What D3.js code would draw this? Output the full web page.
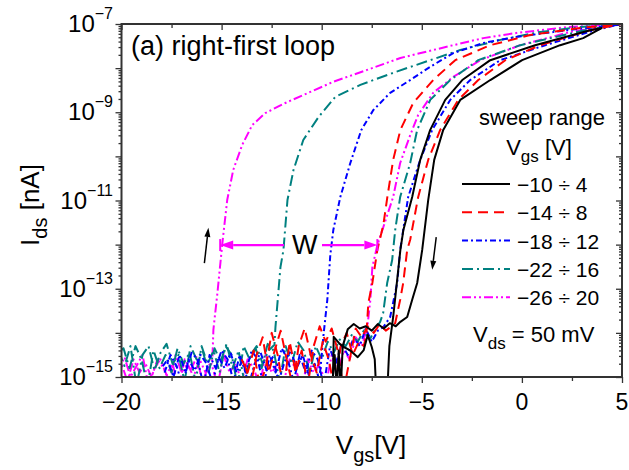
<!DOCTYPE html>
<html>
<head>
<meta charset="utf-8">
<script src="https://cdn.jsdelivr.net/npm/d3@7"></script>
<style>
  body { margin: 0; background: #fff; }
  text { font-family: "Liberation Sans", Arial, sans-serif; fill: #000; }
</style>
</head>
<body>
<svg id="chart" width="629" height="470"></svg>
<script>
// Transfer curves: each point is [Vgs in V, log10(Ids)].
// "down" = sweep from the positive end (with the floor it falls into),
// "up"   = return sweep along the floor and rising out of it.
const blackDown = [[4.0,-7.09],[3.06,-7.32],[1.91,-7.48],[0.01,-7.82],[-1.58,-8.27],[-3.08,-8.72],[-3.93,-9.40],[-4.38,-10.08],[-4.68,-10.99],[-4.98,-12.12],[-5.23,-12.87],[-5.48,-13.25],[-5.73,-13.64],[-6.07,-13.75],[-6.3,-13.85],[-6.6,-13.78],[-6.9,-13.9],[-7.2,-13.8],[-7.5,-13.95],[-7.8,-13.85],[-8.1,-13.9],[-8.4,-13.8],[-8.7,-13.92],[-8.95,-14.3],[-9.05,-15.3],[-9.15,-14.4],[-9.25,-15.3],[-9.35,-14.5],[-9.5,-15.3],[-10.0,-15.3]];
const blackUp = [[-10.0,-15.3],[-9.45,-15.3],[-9.4,-14.09],[-9.1,-14.25],[-8.9,-14.32],[-8.6,-14.39],[-8.2,-14.55],[-7.9,-14.39],[-7.7,-14.05],[-7.5,-14.32],[-7.35,-14.6],[-7.28,-15.3],[-6.72,-15.3],[-6.62,-14.3],[-6.43,-13.64],[-6.07,-12.12],[-5.92,-11.67],[-5.48,-10.92],[-5.08,-10.08],[-4.58,-9.40],[-3.83,-8.72],[-2.98,-8.27],[-1.58,-7.82],[0.66,-7.48],[3.41,-7.14],[4.0,-7.09]];

const redDown = [[5.3,-6.97],[4.96,-7.0],[3.41,-7.14],[0.91,-7.48],[-0.83,-7.82],[-2.18,-8.27],[-3.18,-8.72],[-4.08,-9.40],[-4.68,-10.08],[-5.18,-10.92],[-5.58,-11.89],[-5.73,-12.12],[-5.93,-12.87],[-6.08,-13.25],[-6.33,-13.78],[-6.5,-13.85],[-6.8,-13.95],[-7.1,-13.8],[-7.4,-14.0],[-7.7,-13.85],[-8.0,-14.1],[-8.3,-13.9],[-8.6,-14.6],[-8.9,-15.3],[-9.2,-14.4],[-9.5,-13.9],[-9.8,-14.2],[-10.1,-13.85],[-10.4,-14.3],[-10.7,-15.2],[-11.0,-14.4],[-11.3,-14.9],[-11.6,-14.2],[-11.9,-15.3],[-12.2,-14.5],[-12.5,-14.0],[-12.8,-14.8],[-13.1,-15.2],[-13.4,-14.4],[-13.7,-14.9],[-14.0,-14.6]];
const redUp = [[-13.85,-14.7],[-13.55,-15.2],[-13.25,-14.5],[-12.95,-14.1],[-12.65,-14.9],[-12.35,-14.4],[-12.05,-13.95],[-11.75,-14.6],[-11.45,-15.2],[-11.15,-14.3],[-10.85,-13.9],[-10.55,-14.5],[-10.25,-14.9],[-9.95,-14.2],[-9.65,-14.6],[-9.35,-15.3],[-9.05,-14.3],[-8.75,-14.0],[-8.45,-14.5],[-8.15,-14.2],[-7.9,-14.3],[-7.77,-14.05],[-7.67,-13.32],[-7.47,-12.87],[-7.22,-12.12],[-6.92,-11.55],[-6.72,-10.92],[-6.43,-10.08],[-6.07,-9.40],[-5.43,-8.79],[-4.43,-8.27],[-3.33,-7.82],[-1.58,-7.48],[0.41,-7.25],[2.91,-7.09],[4.96,-7.0],[5.3,-6.98]];

const blueDown = [[5.3,-6.97],[4.96,-7.0],[3.66,-7.14],[1.16,-7.48],[-1.08,-7.82],[-2.58,-8.27],[-3.58,-8.72],[-4.48,-9.40],[-5.08,-10.08],[-5.68,-10.92],[-6.08,-12.12],[-6.23,-12.87],[-6.58,-13.64],[-6.92,-13.87],[-7.2,-13.95],[-7.5,-14.2],[-7.8,-13.9],[-8.1,-14.3],[-8.4,-14.1],[-8.7,-14.5],[-9.0,-14.25],[-9.3,-14.7],[-9.6,-14.35],[-9.9,-15.2],[-10.2,-14.6],[-10.5,-14.4],[-10.8,-14.9],[-11.1,-14.5],[-11.4,-15.1],[-11.7,-14.6],[-12.0,-14.35],[-12.3,-14.9],[-12.6,-14.5],[-12.9,-15.2],[-13.2,-14.6],[-13.5,-14.4],[-13.8,-14.9],[-14.1,-14.5],[-14.4,-15.1],[-14.7,-14.6],[-15.0,-14.4],[-15.3,-14.8],[-15.6,-14.5],[-15.9,-15.2],[-16.2,-14.6],[-16.5,-14.45],[-16.8,-14.9],[-17.1,-14.5],[-17.4,-15.0],[-17.7,-14.6],[-18.0,-14.8]];
const blueUp = [[-17.85,-14.9],[-17.55,-14.5],[-17.25,-14.75],[-16.95,-15.2],[-16.65,-14.6],[-16.35,-14.85],[-16.05,-14.5],[-15.75,-14.7],[-15.45,-15.15],[-15.15,-14.55],[-14.85,-14.8],[-14.55,-14.45],[-14.25,-14.9],[-13.95,-14.6],[-13.65,-15.2],[-13.35,-14.7],[-13.05,-14.45],[-12.75,-14.85],[-12.45,-14.55],[-12.15,-15.1],[-11.85,-14.65],[-11.55,-14.4],[-11.25,-14.8],[-10.95,-14.5],[-10.65,-14.95],[-10.35,-14.7],[-10.12,-15.07],[-10.02,-14.61],[-9.92,-14.09],[-9.72,-13.25],[-9.57,-12.23],[-9.42,-11.67],[-9.07,-10.92],[-8.57,-10.15],[-8.02,-9.40],[-7.42,-8.95],[-6.58,-8.56],[-5.58,-8.27],[-4.58,-7.97],[-3.43,-7.66],[-1.93,-7.43],[-0.23,-7.29],[2.26,-7.14],[4.76,-7.02],[5.3,-6.99]];

const tealDown = [[5.3,-6.96],[4.96,-7.0],[3.16,-7.14],[-0.08,-7.48],[-2.18,-7.82],[-3.58,-8.27],[-4.58,-8.72],[-5.23,-9.40],[-5.58,-10.15],[-6.08,-10.92],[-6.33,-11.67],[-6.48,-12.35],[-6.73,-12.87],[-6.93,-13.55],[-7.08,-13.75],[-7.3,-13.9],[-7.6,-14.15],[-7.9,-13.95],[-8.2,-14.2],[-8.5,-14.05],[-8.8,-14.3],[-9.1,-14.15],[-9.4,-14.45],[-9.7,-14.2],[-10.0,-14.6],[-10.3,-14.3],[-10.6,-14.9],[-10.9,-14.4],[-11.2,-14.2],[-11.5,-14.7],[-11.8,-14.3],[-12.1,-15.1],[-12.4,-14.4],[-12.7,-14.25],[-13.0,-14.8],[-13.3,-14.35],[-13.6,-14.6],[-13.9,-14.3],[-14.2,-15.2],[-14.5,-14.5],[-14.8,-14.3],[-15.1,-14.9],[-15.4,-14.4],[-15.7,-14.7],[-16.0,-14.3],[-16.3,-15.1],[-16.6,-14.45],[-16.9,-14.7],[-17.2,-14.35],[-17.5,-14.9],[-17.8,-14.5],[-18.1,-14.8],[-18.4,-14.4],[-18.7,-15.2],[-19.0,-14.6],[-19.3,-14.3],[-19.6,-14.8],[-19.9,-14.35],[-20.3,-14.5]];
const tealUp = [[-20.15,-14.4],[-19.85,-14.75],[-19.55,-14.3],[-19.25,-15.2],[-18.95,-14.5],[-18.65,-14.3],[-18.35,-14.85],[-18.05,-14.45],[-17.75,-14.25],[-17.45,-14.7],[-17.15,-14.5],[-16.85,-15.1],[-16.55,-14.3],[-16.25,-14.6],[-15.95,-14.4],[-15.65,-14.9],[-15.35,-14.35],[-15.05,-14.65],[-14.75,-14.25],[-14.45,-14.8],[-14.15,-14.4],[-13.85,-15.15],[-13.55,-14.5],[-13.25,-14.3],[-12.95,-14.7],[-12.65,-14.4],[-12.36,-14.27],[-12.31,-13.87],[-12.06,-12.51],[-11.91,-12.12],[-11.71,-10.99],[-11.41,-10.31],[-10.92,-9.63],[-10.16,-9.11],[-9.32,-8.65],[-8.07,-8.38],[-6.33,-8.09],[-4.58,-7.82],[-3.08,-7.59],[-1.08,-7.36],[0.91,-7.18],[2.91,-7.07],[4.96,-7.0],[5.3,-6.97]];

const magentaDown = [[5.3,-6.95],[4.96,-7.0],[2.41,-7.18],[-0.08,-7.48],[-2.08,-7.82],[-3.43,-8.20],[-4.43,-8.56],[-5.18,-9.06],[-5.58,-9.52],[-6.08,-10.15],[-6.43,-10.92],[-6.92,-11.60],[-7.22,-12.01],[-7.47,-12.51],[-7.57,-13.25],[-7.72,-13.87],[-8.0,-14.3],[-8.3,-14.1],[-8.6,-14.6],[-8.9,-14.4],[-9.2,-14.9],[-9.5,-14.5],[-9.8,-15.2],[-10.1,-14.7],[-10.4,-14.9],[-10.7,-14.6],[-11.0,-15.3],[-11.3,-14.8],[-11.6,-14.6],[-11.9,-15.1],[-12.2,-14.7],[-12.5,-14.9],[-12.8,-14.5],[-13.1,-15.2],[-13.4,-14.8],[-13.7,-14.6],[-14.0,-15.1],[-14.3,-14.7],[-14.6,-14.9],[-14.9,-14.5],[-15.2,-15.2],[-15.5,-14.7],[-15.8,-14.9],[-16.1,-14.6],[-16.4,-15.0],[-16.7,-14.7],[-17.0,-14.9],[-17.3,-14.5],[-17.6,-15.1],[-17.9,-14.8],[-18.2,-14.6],[-18.5,-15.0],[-18.8,-14.7],[-19.1,-14.9],[-19.4,-14.6],[-19.7,-15.1],[-20.0,-14.7],[-20.3,-14.8]];
const magentaUp = [[-20.15,-14.9],[-19.85,-14.55],[-19.55,-15.0],[-19.25,-14.75],[-18.95,-14.5],[-18.65,-15.2],[-18.35,-14.8],[-18.05,-14.6],[-17.75,-14.95],[-17.45,-14.7],[-17.15,-15.25],[-16.85,-14.6],[-16.55,-14.85],[-16.25,-14.55],[-15.95,-15.1],[-15.65,-14.75],[-15.46,-14.61],[-15.41,-13.93],[-15.21,-13.10],[-14.96,-11.96],[-14.72,-10.99],[-14.42,-10.31],[-13.97,-9.74],[-13.47,-9.29],[-12.82,-9.02],[-11.82,-8.79],[-10.57,-8.54],[-9.42,-8.31],[-7.73,-8.04],[-6.07,-7.77],[-4.43,-7.59],[-3.43,-7.48],[-1.93,-7.32],[-0.23,-7.20],[2.26,-7.07],[4.96,-7.0],[5.3,-6.96]];

// Legend entries (sweep ranges) in legend order
const sweepLabels = ["\u221210 \u00f7 4", "\u221214 \u00f7 8", "\u221218 \u00f7 12", "\u221222 \u00f7 16", "\u221226 \u00f7 20"];
const sweepBranches = [[blackDown, blackUp], [redDown, redUp], [blueDown, blueUp], [tealDown, tealUp], [magentaDown, magentaUp]];

// Axis ticks
const xTicks = [-20, -15, -10, -5, 0, 5];
const xMinorTicks = [-17.5, -12.5, -7.5, -2.5, 2.5];
const yLabelExps = [-15, -13, -11, -9, -7];

// Hysteresis width marker (largest loop) and sweep direction arrows
const wLevel = -12.01;
const wLeft = -15.07, wRight = -7.22;
const upArrow = [[-15.86, -12.42], [-15.66, -11.62]];
const downArrow = [[-4.28, -11.83], [-4.48, -12.57]];

// ---- styles ----
const colors = ["#000000", "#ff0000", "#0000ff", "#008080", "#ff00ff"];
const dashes = [null, "10,6", "6,3,2,3", "11,4,2,4", "9,3,2,3,2,3"];
const axisColor = "#333";

const svg = d3.select("#chart");
const plotL = 121.5, plotR = 622, plotT = 24, plotB = 377;
const x = d3.scaleLinear().domain([-20, 5]).range([plotL, plotR]);
const y = d3.scaleLog().domain([1e-15, 1e-7]).range([plotB, plotT]);
const px = d => x(d[0]);
const py = d => y(Math.pow(10, d[1]));
const line = d3.line().x(px).y(py);
const minus = s => String(s).replace("-", "\u2212");

svg.append("defs").append("clipPath").attr("id", "plotClip")
  .append("rect").attr("x", plotL).attr("y", plotT).attr("width", plotR - plotL).attr("height", plotB - plotT);

// curves, drawn so the narrowest loop ends up on top
const curves = svg.append("g").attr("clip-path", "url(#plotClip)");
for (let i = sweepBranches.length - 1; i >= 0; i--) {
  sweepBranches[i].forEach(branch => {
    curves.append("path").datum(branch)
      .attr("d", line)
      .attr("fill", "none")
      .attr("stroke", colors[i])
      .attr("stroke-width", 2)
      .attr("stroke-dasharray", dashes[i])
      .attr("stroke-linejoin", "round");
  });
}

// ---- axes ----
const minorY = [];
for (let e = -15; e < -7; e++) for (let k = 2; k <= 9; k++) minorY.push(k * Math.pow(10, e));
const decades = d3.range(-15, -6).map(e => Math.pow(10, e));

function styleAxis(g) {
  g.select(".domain").remove();
  g.selectAll(".tick line").attr("stroke", axisColor).attr("stroke-width", 1.3);
  g.selectAll(".tick text").remove();
}
svg.append("g").attr("transform", `translate(0,${plotB})`)
  .call(d3.axisBottom(x).tickValues(xTicks).tickSize(6)).call(styleAxis);
svg.append("g").attr("transform", `translate(0,${plotB})`)
  .call(d3.axisBottom(x).tickValues(xMinorTicks).tickSize(4)).call(styleAxis);
svg.append("g").attr("transform", `translate(0,${plotT})`)
  .call(d3.axisTop(x).tickValues(xTicks).tickSize(-6)).call(styleAxis);
svg.append("g").attr("transform", `translate(0,${plotT})`)
  .call(d3.axisTop(x).tickValues(xMinorTicks).tickSize(-4)).call(styleAxis);
svg.append("g").attr("transform", `translate(${plotL},0)`)
  .call(d3.axisLeft(y).tickValues(decades).tickSize(6)).call(styleAxis);
svg.append("g").attr("transform", `translate(${plotL},0)`)
  .call(d3.axisLeft(y).tickValues(minorY).tickSize(3)).call(styleAxis);
svg.append("g").attr("transform", `translate(${plotR},0)`)
  .call(d3.axisRight(y).tickValues(decades).tickSize(-6)).call(styleAxis);
svg.append("g").attr("transform", `translate(${plotR},0)`)
  .call(d3.axisRight(y).tickValues(minorY).tickSize(-3)).call(styleAxis);

svg.append("rect").attr("x", plotL).attr("y", plotT)
  .attr("width", plotR - plotL).attr("height", plotB - plotT)
  .attr("fill", "none").attr("stroke", axisColor).attr("stroke-width", 2);

// tick labels
svg.append("g").selectAll("text").data(xTicks).join("text")
  .attr("x", d => x(d)).attr("y", 410)
  .attr("text-anchor", "middle").attr("font-size", 23)
  .text(d => minus(d));

const yl = svg.append("g").selectAll("text").data(yLabelExps).join("text")
  .attr("x", 113).attr("y", d => y(Math.pow(10, d)) + 8)
  .attr("text-anchor", "end").attr("font-size", 24);
yl.append("tspan").text("10");
yl.append("tspan").attr("dy", -13).attr("font-size", 16).text(d => minus(d));

// axis titles
const xt = svg.append("text").attr("x", 371).attr("y", 454)
  .attr("text-anchor", "middle").attr("font-size", 26);
xt.append("tspan").text("V");
xt.append("tspan").attr("dy", 8).attr("font-size", 20).text("gs");
xt.append("tspan").attr("dy", -8).text("[V]");

const ytl = svg.append("text").attr("transform", "translate(39,205) rotate(-90)")
  .attr("text-anchor", "middle").attr("font-size", 26);
ytl.append("tspan").text("I");
ytl.append("tspan").attr("dy", 8).attr("font-size", 20).text("ds");
ytl.append("tspan").attr("dy", -8).text(" [nA]");

// panel title
svg.append("text").attr("x", 131).attr("y", 55).attr("font-size", 27)
  .text("(a) right-first loop");

// ---- legend ----
svg.append("text").attr("x", 542).attr("y", 125).attr("text-anchor", "middle")
  .attr("font-size", 22).text("sweep range");
const lg = svg.append("text").attr("x", 539).attr("y", 155).attr("text-anchor", "middle")
  .attr("font-size", 22);
lg.append("tspan").text("V");
lg.append("tspan").attr("dy", 7).attr("font-size", 17).text("gs");
lg.append("tspan").attr("dy", -7).text(" [V]");

const rows = svg.append("g").selectAll("g").data(sweepLabels).join("g")
  .attr("transform", (d, i) => `translate(0,${192 + i * 28.3})`);
rows.append("line").attr("x1", 462).attr("x2", 510).attr("y1", -8).attr("y2", -8)
  .attr("stroke", (d, i) => colors[i]).attr("stroke-width", 2)
  .attr("stroke-dasharray", (d, i) => dashes[i]);
rows.append("text").attr("x", 517).attr("y", 0).attr("font-size", 21).text(d => d);

const vds = svg.append("text").attr("x", 473).attr("y", 342).attr("font-size", 22);
vds.append("tspan").text("V");
vds.append("tspan").attr("dy", 7).attr("font-size", 17).text("ds");
vds.append("tspan").attr("dy", -7).text(" = 50 mV");

// ---- annotations ----
function arrow(g, x1, y1, x2, y2, color, len, half, width) {
  const a = Math.atan2(y2 - y1, x2 - x1);
  const bx = x2 - len * Math.cos(a), by = y2 - len * Math.sin(a);
  g.append("line").attr("x1", x1).attr("y1", y1).attr("x2", bx).attr("y2", by)
    .attr("stroke", color).attr("stroke-width", width);
  const nx = -Math.sin(a) * half, ny = Math.cos(a) * half;
  g.append("path")
    .attr("d", `M${x2},${y2}L${bx + nx},${by + ny}L${bx - nx},${by - ny}Z`)
    .attr("fill", color);
}
const ann = svg.append("g");
const wy = y(Math.pow(10, wLevel));
svg.append("text").attr("x", 292).attr("y", wy + 9).attr("font-size", 27).text("W");
arrow(ann, 284, wy, x(wLeft), wy, "#ff00ff", 13, 4.5, 2.2);
arrow(ann, 322, wy, x(wRight), wy, "#ff00ff", 13, 4.5, 2.2);
[wLeft, wRight].forEach(v => {
  ann.append("line").attr("x1", x(v)).attr("x2", x(v)).attr("y1", wy - 6).attr("y2", wy + 6)
    .attr("stroke", "#ff00ff").attr("stroke-width", 2);
});
arrow(ann, px(upArrow[0]), py(upArrow[0]), px(upArrow[1]), py(upArrow[1]), "#000", 9, 3, 1.5);
arrow(ann, px(downArrow[0]), py(downArrow[0]), px(downArrow[1]), py(downArrow[1]), "#000", 9, 3, 1.5);
</script>
</body>
</html>
